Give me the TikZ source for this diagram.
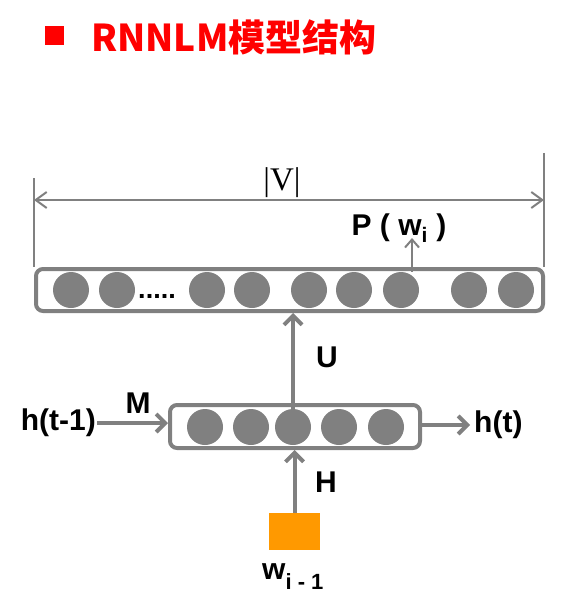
\documentclass[tikz,border=0pt]{standalone}
\usepackage{fontspec}
\usepackage{tikz}
\usetikzlibrary{arrows.meta}
\newfontfamily\cjkfont{Noto Sans CJK SC}
\newfontfamily\rnnsans{Liberation Sans}
\newfontfamily\rnnserif{Liberation Serif}
\newcommand\rnnfont{\rnnsans\bfseries\fontsize{30}{34}\selectfont}
\definecolor{wordorange}{RGB}{255,153,0}

\begin{document}
\begin{tikzpicture}[x=1pt,y=-1pt,
	neuron/.style={circle, fill=gray, minimum size=36pt, inner sep=0pt},
	layer/.style={draw=gray, line width=4pt, rounded corners=7pt, fill=white, inner sep=0pt},
	flow/.style={draw=gray, line width=4pt, -{Straight Barb[length=9pt,width=18pt]}},
	thin/.style={draw=gray, line width=2pt},
	lab/.style={font=\rnnfont, inner sep=0pt}]
\useasboundingbox (0,0) rectangle (564,596);
% title
\node [fill=red, minimum size=19pt, inner sep=0pt] (bullet) at (54.5,35.5) {};
\node [anchor=west, text=red, inner sep=0pt, font=\cjkfont\bfseries\fontsize{37}{40}\selectfont] (title) at (91,37) {RNNLM模型结构};
% output layer
\node [layer, minimum width=507pt, minimum height=42pt] (out) at (289.5,290) {};
\foreach \x [count=\i] in {71,117,207,252,309,354,401,469,516}
	\node [neuron] (o\i) at (\x,290) {};
\node [anchor=base, inner sep=0pt, font=\rnnsans\bfseries\fontsize{27}{30}\selectfont] (dots) at (157,298) {.....};
% hidden layer
\node [layer, minimum width=250pt, minimum height=43pt] (hid) at (295,426.5) {};
\foreach \x [count=\i] in {205,251,293,339,386}
	\node [neuron] (m\i) at (\x,427) {};
% input word
\node [fill=wordorange, minimum width=51pt, minimum height=37pt, inner sep=0pt] (word) at (294.5,531.5) {};
\node [anchor=base west, inner sep=0pt, font=\rnnfont] (wlab) at (262,579) {w\raisebox{-10pt}{\fontsize{22}{24}\selectfont i - 1}};
% size of vocabulary
\coordinate (vl) at (34,178);
\coordinate (vr) at (544,153);
\coordinate (vmid) at (282,200);
\draw [thin] (vl) -- (vl |- out.north);
\draw [thin] (vr) -- (vr |- out.north);
\draw [thin, {Straight Barb[length=11pt,width=16pt]}-{Straight Barb[length=11pt,width=16pt]}] (vl |- vmid) -- (vr |- vmid);
\node [font=\rnnserif\fontsize{33}{36}\selectfont, inner sep=0pt] (vsize) at (282,183) {|V|};
\node [lab] (pw) at (399,228) {P ( w\textsubscript{i} )};
\coordinate (ptip) at (412,238);
\draw [thin, -{Straight Barb[length=8pt,width=14pt]}] ([xshift=11pt]o7.north) -- (ptip);
% connections
\draw [flow] (m3.north) -- (m3 |- out.south);
\node [lab] (ulab) at (327,357) {U};
\draw [flow] (word.north) -- (word |- hid.south);
\node [lab] (hlab) at (326,482) {H};
\node [lab, anchor=east, inner sep=1pt] (hprev) at (97,423) {h(t-1)};
\draw [flow] (hprev.east) -- (hprev -| hid.west);
\node [lab] (mlab) at (138,403) {M};
\node [lab, anchor=west, inner sep=4pt] (hnext) at (470,425) {h(t)};
\draw [flow] (hid.east |- hnext) -- (hnext.west);
\end{tikzpicture}
\end{document}
